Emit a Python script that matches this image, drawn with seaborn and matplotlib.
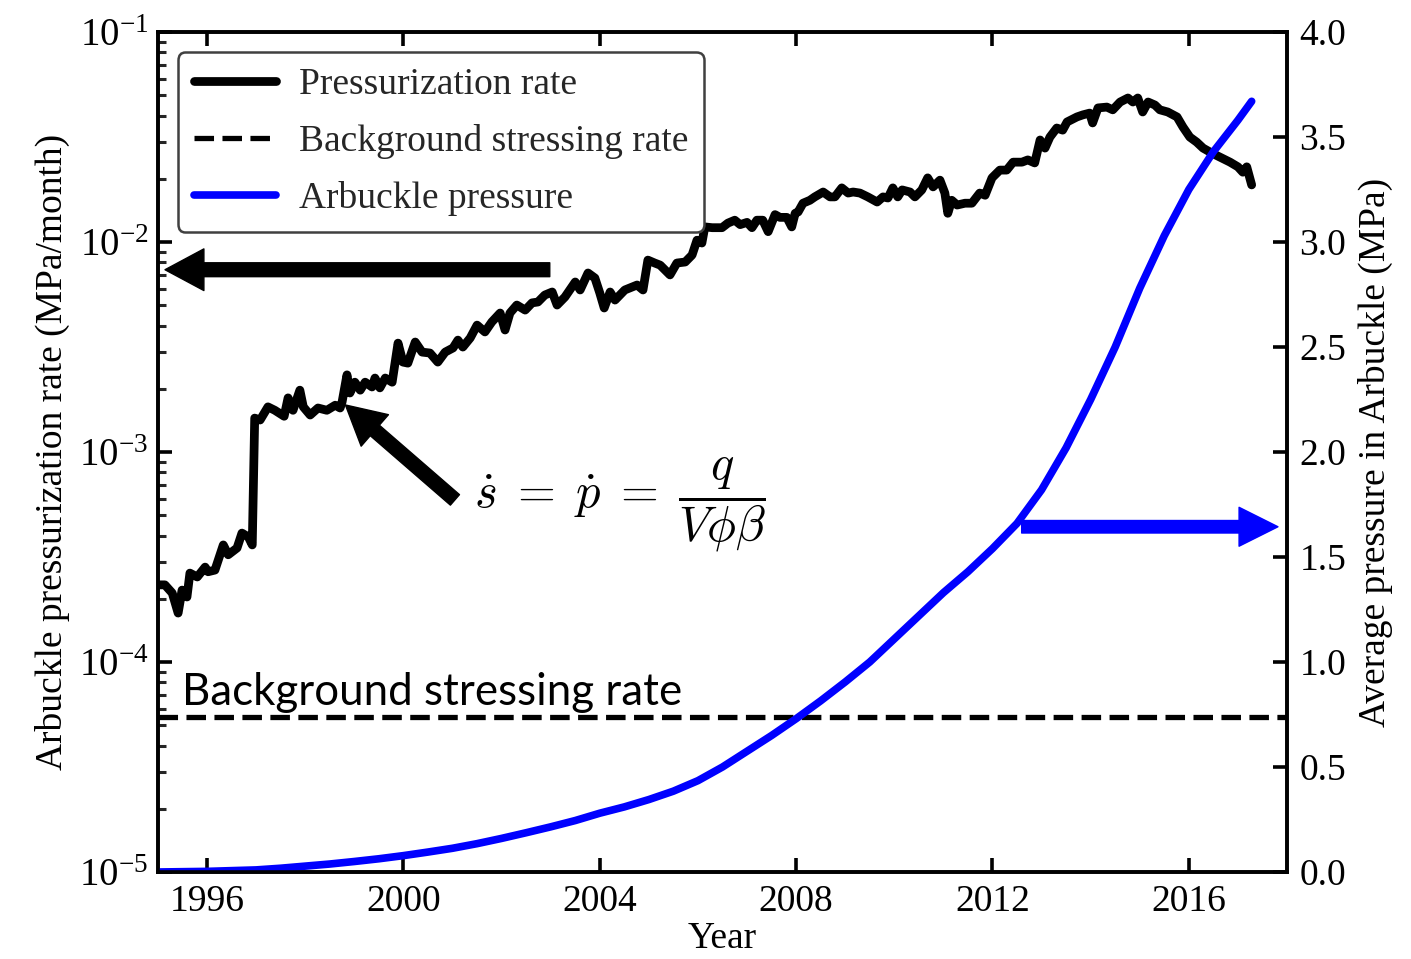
import numpy as np
import pandas as pd
import matplotlib
matplotlib.use("Agg")
import matplotlib.pyplot as plt
from matplotlib.ticker import NullFormatter
import seaborn as sns

# ---------------- data ----------------
years = [
    1995.00, 1995.14, 1995.29, 1995.41, 1995.49, 1995.59, 1995.65, 1995.80, 1995.96, 1996.02,
    1996.16, 1996.33, 1996.43, 1996.61, 1996.71, 1996.84, 1996.92, 1996.97, 1997.08, 1997.24,
    1997.38, 1997.57, 1997.65, 1997.75, 1997.89, 1997.96, 1998.10, 1998.26, 1998.44, 1998.61,
    1998.71, 1998.75, 1998.85, 1998.91, 1999.01, 1999.12, 1999.22, 1999.36, 1999.42, 1999.52,
    1999.63, 1999.77, 1999.89, 1999.99, 2000.09, 2000.24, 2000.38, 2000.54, 2000.70, 2000.85,
    2001.01, 2001.11, 2001.21, 2001.36, 2001.50, 2001.66, 2001.80, 2001.97, 2002.07, 2002.17,
    2002.31, 2002.48, 2002.62, 2002.74, 2002.88, 2003.03, 2003.13, 2003.29, 2003.50, 2003.60,
    2003.76, 2003.90, 2004.00, 2004.09, 2004.21, 2004.31, 2004.51, 2004.76, 2004.88, 2004.98,
    2005.12, 2005.23, 2005.43, 2005.57, 2005.74, 2005.88, 2005.98, 2006.08, 2006.14, 2006.29,
    2006.49, 2006.61, 2006.75, 2006.86, 2007.00, 2007.10, 2007.20, 2007.32, 2007.43, 2007.57,
    2007.67, 2007.81, 2007.91, 2007.98, 2008.04, 2008.14, 2008.28, 2008.38, 2008.55, 2008.69,
    2008.79, 2008.93, 2009.06, 2009.16, 2009.30, 2009.46, 2009.65, 2009.77, 2009.87, 2009.97,
    2010.07, 2010.16, 2010.32, 2010.42, 2010.56, 2010.68, 2010.79, 2010.93, 2011.03, 2011.09,
    2011.17, 2011.28, 2011.44, 2011.58, 2011.74, 2011.85, 2011.99, 2012.15, 2012.29, 2012.42,
    2012.60, 2012.72, 2012.86, 2012.97, 2013.07, 2013.17, 2013.31, 2013.43, 2013.52, 2013.72,
    2013.84, 2013.98, 2014.04, 2014.15, 2014.33, 2014.45, 2014.60, 2014.76, 2014.86, 2014.96,
    2015.06, 2015.17, 2015.31, 2015.41, 2015.57, 2015.76, 2015.88, 2016.02, 2016.16, 2016.29,
    2016.47, 2016.67, 2016.84, 2017.00, 2017.10, 2017.18, 2017.28,
]
# pressurization rate in units of 1e-3 MPa/month
rate_milli = [
    0.233, 0.233, 0.213, 0.171, 0.220, 0.204, 0.265, 0.254, 0.283, 0.269,
    0.274, 0.361, 0.324, 0.349, 0.411, 0.394, 0.361, 1.45, 1.42, 1.64,
    1.58, 1.48, 1.81, 1.58, 1.97, 1.64, 1.50, 1.62, 1.58, 1.67,
    1.62, 1.73, 2.33, 1.91, 2.15, 1.97, 2.15, 2.04, 2.25, 2.02,
    2.25, 2.15, 3.30, 2.68, 2.65, 3.34, 2.99, 2.96, 2.68, 2.99,
    3.13, 3.41, 3.16, 3.49, 4.02, 3.73, 4.16, 4.59, 3.81, 4.59,
    5.01, 4.74, 5.13, 5.18, 5.59, 5.78, 5.01, 5.47, 6.45, 5.91,
    7.12, 6.74, 5.72, 4.85, 5.78, 5.29, 5.91, 6.24, 5.91, 8.20,
    7.94, 7.76, 6.97, 7.94, 8.03, 8.67, 10.2, 9.89, 11.8, 11.7,
    11.7, 12.3, 12.7, 12.1, 12.4, 11.7, 12.7, 12.7, 11.2, 13.5,
    13.1, 13.1, 11.8, 13.7, 13.9, 15.3, 15.8, 16.4, 17.3, 16.4,
    16.4, 18.1, 17.1, 17.3, 17.1, 16.4, 15.5, 16.4, 16.2, 18.1,
    16.4, 17.7, 17.3, 16.4, 17.7, 20.2, 18.3, 19.7, 17.1, 13.7,
    15.8, 15.0, 15.3, 15.3, 17.1, 16.7, 20.2, 22.0, 22.0, 24.0,
    24.0, 24.6, 23.8, 30.6, 28.0, 31.6, 34.9, 34.1, 37.3, 39.4,
    40.3, 41.1, 36.9, 43.5, 43.9, 42.6, 46.4, 48.5, 46.4, 48.5,
    41.6, 46.4, 44.9, 42.6, 41.6, 39.4, 35.3, 31.6, 29.9, 28.0,
    26.5, 25.1, 24.0, 22.8, 21.5, 22.8, 18.7,
]
press_years = [
    1995.0, 1996.0, 1997.0, 1997.5, 1998.0, 1998.5, 1999.0, 1999.5, 2000.0, 2000.5,
    2001.0, 2001.5, 2002.0, 2002.5, 2003.0, 2003.5, 2004.0, 2004.5, 2005.0, 2005.5,
    2006.0, 2006.5, 2007.0, 2007.5, 2008.0, 2008.5, 2009.0, 2009.5, 2010.0, 2010.5,
    2011.0, 2011.5, 2012.0, 2012.5, 2013.0, 2013.5, 2014.0, 2014.5, 2015.0, 2015.5,
    2016.0, 2016.5, 2017.0, 2017.28,
]
press_mpa = [
    0.0, 0.003, 0.010, 0.018, 0.028, 0.038, 0.050, 0.063, 0.078, 0.095,
    0.113, 0.135, 0.160, 0.187, 0.215, 0.245, 0.280, 0.310, 0.345, 0.385,
    0.435, 0.500, 0.575, 0.650, 0.730, 0.815, 0.905, 1.000, 1.110, 1.220,
    1.330, 1.430, 1.540, 1.660, 1.820, 2.020, 2.250, 2.500, 2.780, 3.030,
    3.250, 3.430, 3.580, 3.670,
]
background_rate = 5.5e-5
x_ticks = [1996, 2000, 2004, 2008, 2012, 2016]
right_ticks = [0.0, 0.5, 1.0, 1.5, 2.0, 2.5, 3.0, 3.5, 4.0]

assert len(years) == len(rate_milli)
assert len(press_years) == len(press_mpa)

df_rate = pd.DataFrame({"Year": years, "rate": np.array(rate_milli) * 1e-3})
df_press = pd.DataFrame({"Year": press_years, "pressure": press_mpa})

# ---------------- style ----------------
sns.set_theme(style="ticks")
plt.rcParams["font.family"] = ["Liberation Serif", "DejaVu Serif"]
plt.rcParams["mathtext.fontset"] = "stix"
plt.rcParams["axes.unicode_minus"] = True

fig = plt.figure(figsize=(14.11, 9.59), dpi=100)
ax = fig.add_axes([0.11198, 0.09072, 0.80014, 0.87591])
ax2 = ax.twinx()

# ---------------- lines ----------------
sns.lineplot(data=df_rate, x="Year", y="rate", ax=ax, color="black",
             linewidth=6.3, legend=False, estimator=None, sort=False)
bg_line = ax.axhline(background_rate, color="black", ls="--", lw=3.8)
sns.lineplot(data=df_press, x="Year", y="pressure", ax=ax2, color="blue",
             linewidth=5.5, legend=False, estimator=None, sort=False)

ax.set_yscale("log")
ax.set_xlim(1995, 2018)
ax.set_ylim(1e-5, 1e-1)
ax2.set_ylim(0, 4.0)
ax.set_xticks(x_ticks)
ax2.set_yticks(right_ticks)
ax2.set_yticklabels([f"{v:.1f}" for v in right_ticks])
ax.yaxis.set_minor_formatter(NullFormatter())

# ---------------- axes cosmetics ----------------
for a in (ax, ax2):
    for s in a.spines.values():
        s.set_linewidth(2.6)
        s.set_color("black")

ax.tick_params(axis="both", which="major", direction="in", length=10, width=2.6,
               labelsize=27, top=True, right=False, pad=9, colors="black")
ax.tick_params(axis="y", which="minor", direction="in", length=5.5, width=2.2,
               right=False)
ax.tick_params(axis="y", which="major", pad=7, labelsize=28)
ax2.tick_params(axis="y", which="major", direction="in", length=10, width=2.6,
                labelsize=27, pad=9, colors="black")
ax2.tick_params(axis="y", which="minor", right=False)

ax.set_xlabel("Year", fontsize=27, labelpad=2, color="black")
ax.set_ylabel("Arbuckle pressurization rate (MPa/month)", fontsize=27,
              labelpad=6, color="black")
ax2.set_ylabel("Average pressure in Arbuckle (MPa)", fontsize=27,
               labelpad=8, color="black")

# ---------------- legend ----------------
h_rate = ax.get_lines()[0]
h_press = ax2.get_lines()[0]
leg = ax2.legend([h_rate, bg_line, h_press],
                 ["Pressurization rate", "Background stressing rate", "Arbuckle pressure"],
                 loc="upper left", bbox_to_anchor=(0.0177, 0.976), borderaxespad=0,
                 fontsize=27, handlelength=2.2, handletextpad=0.6,
                 labelspacing=0.58, borderpad=0.42, frameon=True, fancybox=True)
leg.get_frame().set_edgecolor("0.25")
leg.get_frame().set_linewidth(1.8)
leg.get_frame().set_alpha(1)

# ---------------- annotations ----------------
ax2.annotate("", xy=(0.0062, 0.717), xytext=(0.347, 0.717), xycoords="axes fraction",
             arrowprops=dict(facecolor="black", edgecolor="black", width=10,
                             headwidth=30, headlength=28, shrink=0))
ax2.annotate("", xy=(0.166, 0.556), xytext=(0.263, 0.443), xycoords="axes fraction",
             arrowprops=dict(facecolor="black", edgecolor="black", width=10,
                             headwidth=30, headlength=28, shrink=0))
ax2.annotate("", xy=(0.992, 0.411), xytext=(0.765, 0.411), xycoords="axes fraction",
             arrowprops=dict(facecolor="blue", edgecolor="blue", width=9,
                             headwidth=28, headlength=28, shrink=0))

ax2.text(0.409, 0.437, r"$\dot{s}\;=\;\dot{p}\;=\;\dfrac{q}{V\phi\beta}$",
         transform=ax2.transAxes, fontsize=35, math_fontfamily="cm",
         ha="center", va="center", color="black")
ax2.text(0.021, 0.199, "Background stressing rate", transform=ax2.transAxes,
         fontsize=31.6, family=["Lato", "DejaVu Sans"], ha="left", va="baseline",
         color="black")

fig.savefig("out.png", dpi=100)
